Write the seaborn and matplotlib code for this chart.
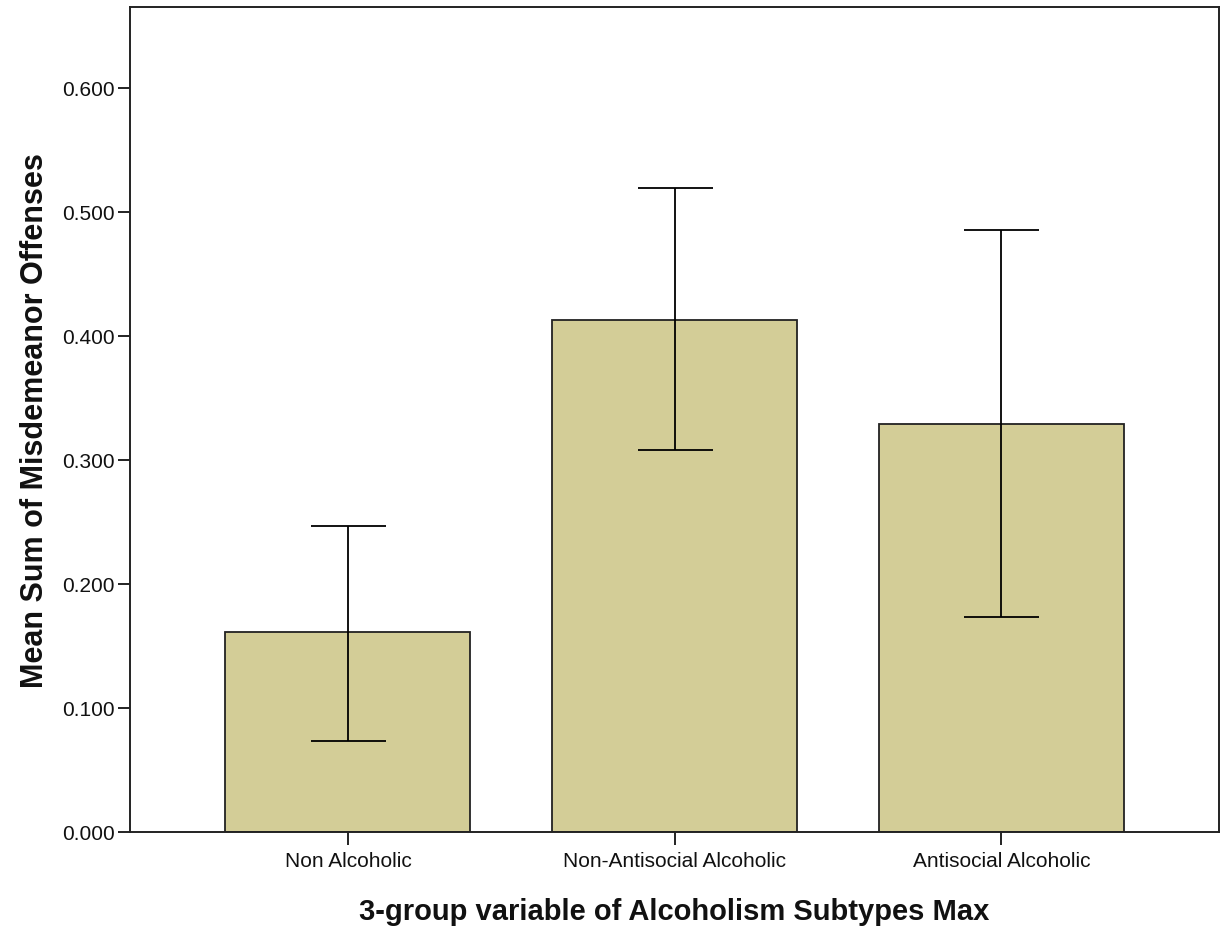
import matplotlib
matplotlib.use("Agg")
import matplotlib.pyplot as plt
import seaborn as sns
import pandas as pd

# Group means and 95% CI bounds
groups = ["Non Alcoholic", "Non-Antisocial Alcoholic", "Antisocial Alcoholic"]
means = [0.161, 0.413, 0.329]
ci_low = [0.073, 0.308, 0.173]
ci_high = [0.247, 0.519, 0.485]
y_ticks = [0.0, 0.1, 0.2, 0.3, 0.4, 0.5, 0.6]

sns.set_style("white")
plt.rcParams["font.family"] = ["Liberation Sans", "DejaVu Sans"]

df = pd.DataFrame({"group": groups, "mean": means})

fig = plt.figure(figsize=(12.21, 9.28), dpi=100)
ax = fig.add_axes([0.1065, 0.1024, 0.892, 0.889])

sns.barplot(data=df, x="group", y="mean", order=groups, color="#D3CD97",
            saturation=1, width=0.75, edgecolor="#222222", linewidth=1.3,
            errorbar=None, ax=ax)

yerr = [[m - lo for m, lo in zip(means, ci_low)],
        [hi - m for m, hi in zip(means, ci_high)]]
ax.errorbar(range(len(groups)), means, yerr=yerr, fmt="none",
            ecolor="black", elinewidth=1.3, capsize=27, capthick=1.3)

ax.set_xlim(-0.667, 2.667)
ax.set_ylim(0, 0.665)
ax.set_yticks(y_ticks)
ax.set_yticklabels([f"{v:.3f}" for v in y_ticks])

for s in ax.spines.values():
    s.set_color("#222222")
    s.set_linewidth(1.4)

ax.tick_params(axis="both", which="both", direction="out", length=9,
               width=1.4, color="#222222", labelsize=15, labelcolor="#111111",
               left=True, bottom=True)
ax.tick_params(axis="y", pad=2)
ax.tick_params(axis="x", pad=5)

ax.set_xlabel("3-group variable of Alcoholism Subtypes Max", fontsize=21,
              fontweight="bold", labelpad=19, color="#111111")
ax.set_ylabel("Mean Sum of Misdemeanor Offenses", fontsize=22,
              fontweight="bold", labelpad=9, color="#111111")

fig.savefig("out.png", dpi=100)
